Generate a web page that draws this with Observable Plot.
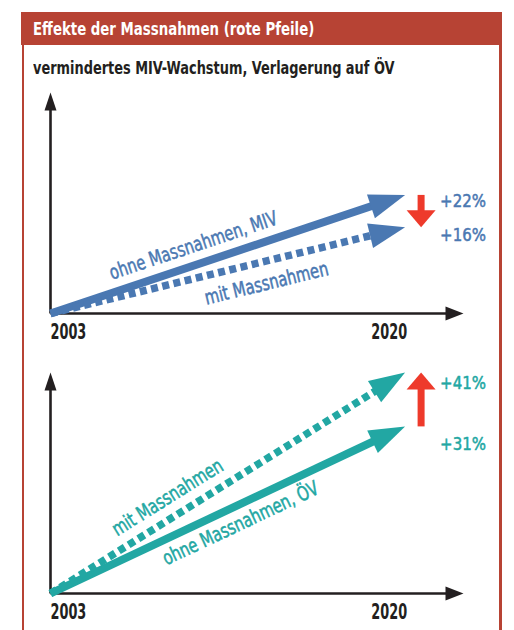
<!DOCTYPE html>
<html>
<head>
<meta charset="utf-8">
<script src="https://cdn.jsdelivr.net/npm/d3@7"></script>
<script src="https://cdn.jsdelivr.net/npm/@observablehq/plot@0.6"></script>
<style>
  body { margin: 0; background: #fff; }
  .cond { font-family: "DejaVu Sans Condensed", "DejaVu Sans", sans-serif; }
  #header { position: absolute; left: 21px; top: 12px; width: 481px; height: 33px; background: #b74334; }
  #title { position: absolute; left: 33px; top: 12px; height: 33px; line-height: 33px; color: #fff; font-size: 18.5px;
           font-weight: bold; white-space: nowrap; transform: scaleX(0.8); transform-origin: 0 50%; }
  #bl, #br { position: absolute; top: 12px; width: 2.5px; height: 640px; background: #b74334; }
  #bl { left: 21.5px; } #br { left: 499px; }
  #subtitle { position: absolute; left: 33px; top: 59px; font-size: 17px; font-weight: bold; color: #231f20;
              line-height: 18px; white-space: nowrap; transform: scaleX(0.845); transform-origin: 0 50%; }
  #p1 { position: absolute; left: 0; top: 80px; }
  #p2 { position: absolute; left: 0; top: 360px; }
</style>
</head>
<body>
<div id="bl"></div><div id="br"></div>
<div id="header"></div>
<div id="title" class="cond">Effekte der Massnahmen (rote Pfeile)</div>
<div id="subtitle" class="cond">vermindertes MIV-Wachstum, Verlagerung auf ÖV</div>
<div id="p1"></div>
<div id="p2"></div>
<script>
// ---- data ----
const years = [2003, 2020];
const xAxisEnd = 2022.8;
const yMax = 41;

const mivSeries = ["ohne Massnahmen, MIV", "mit Massnahmen"];
const mivValues = [22, 16];
const mivLabels = ["+22%", "+16%"];
const mivDashed = [false, true];

const oevSeries = ["mit Massnahmen", "ohne Massnahmen, ÖV"];
const oevValues = [41, 31];
const oevLabels = ["+41%", "+31%"];
const oevDashed = [true, false];

// ---- style / layout ----
const FONT = '"DejaVu Sans Condensed", "DejaVu Sans", sans-serif';
const W = 514, H = 270, ML = 50, MR = 51, MT = 12, MB = 37;
const BLUE = "#4a78b2", TEAL = "#22a7a3", RED = "#ee3a2b", INK = "#231f20";
const kx = (W - ML - MR) / (xAxisEnd - years[0]);
const ky = (H - MT - MB) / yMax;
const angle = v => Math.atan2(v * ky, (years[1] - years[0]) * kx) * 180 / Math.PI;

// arrowhead symbol: tip at origin, pointing to +x
const head = (len, half) => ({
  draw(ctx) { ctx.moveTo(0, 0); ctx.lineTo(-len, -half); ctx.lineTo(-len, half); ctx.closePath(); }
});

function panel({series, values, labels, dashed, color, nameAt, nameDy, pctDy}) {
  const rows = series.map((s, i) => ({name: s, value: values[i], label: labels[i], dashed: dashed[i], i}));
  const ohne = rows.find(d => d.name.startsWith("ohne"));
  const mit = rows.find(d => d.name.startsWith("mit"));
  const effect = [{from: ohne.value, to: mit.value}];
  const base = {x1: () => years[0], y1: () => 0, x2: () => years[1], y2: "value",
                headLength: 0, insetEnd: 28, stroke: color, strokeLinecap: "butt"};
  const marks = [
    // axes
    Plot.arrow([0], {x1: () => years[0], y1: () => 0, x2: () => xAxisEnd, y2: () => 0,
      headLength: 0, insetEnd: 12, stroke: INK, strokeWidth: 2.6, strokeLinecap: "butt"}),
    Plot.arrow([0], {x1: () => years[0], y1: () => 0, x2: () => years[0], y2: () => yMax,
      headLength: 0, insetEnd: 12, stroke: INK, strokeWidth: 2.6, strokeLinecap: "butt"}),
    Plot.dot([0], {x: () => xAxisEnd, y: () => 0, symbol: head(18, 7), fill: INK, stroke: "none"}),
    Plot.dot([0], {x: () => years[0], y: () => yMax, symbol: head(18, 6), rotate: -90, fill: INK, stroke: "none"}),
    // year labels
    Plot.text([years[0]], {x: d => d, y: () => 0, text: d => String(d), dy: 19, textAnchor: "start",
      fontSize: 21, fontWeight: "bold", fill: INK}),
    Plot.text([years[1]], {x: d => d, y: () => 0, text: d => String(d), dy: 19, textAnchor: "end", dx: 2,
      fontSize: 21, fontWeight: "bold", fill: INK}),
    // series arrows
    Plot.arrow(rows.filter(d => !d.dashed), {...base, strokeWidth: 8}),
    Plot.arrow(rows.filter(d => d.dashed), {...base, strokeWidth: 7.5, strokeDasharray: "7,4.5"}),
    Plot.dot(rows, {x: () => years[1], y: "value", symbol: head(36, 12.5),
      rotate: d => -angle(d.value), fill: color, stroke: "none"}),
    // effect (red) arrow
    Plot.arrow(effect, {x1: () => years[1], x2: () => years[1], y1: "from", y2: "to", dx: 16,
      headLength: 0, insetEnd: 14, stroke: RED, strokeWidth: 7, strokeLinecap: "butt"}),
    Plot.dot(effect, {x: () => years[1], y: "to", dx: 16, symbol: head(17, 14.5),
      rotate: d => d.to < d.from ? 90 : -90, fill: RED, stroke: "none"}),
  ];
  rows.forEach(d => {
    const f = nameAt[d.i];
    marks.push(Plot.text([d], {
      x: r => years[0] + f * (years[1] - years[0]), y: r => f * r.value, text: "name",
      rotate: -angle(d.value), dy: nameDy[d.i], fill: color, stroke: color, strokeWidth: 0.5, fontSize: 20
    }));
    marks.push(Plot.text([d], {
      x: () => years[1], y: "value", text: "label", dx: 35, dy: pctDy[d.i],
      textAnchor: "start", fill: color, stroke: color, strokeWidth: 0.5, fontSize: 18.5
    }));
  });
  return Plot.plot({
    width: W, height: H, marginLeft: ML, marginRight: MR, marginTop: MT, marginBottom: MB,
    x: {domain: [years[0], xAxisEnd], axis: null},
    y: {domain: [0, yMax], axis: null},
    style: {fontFamily: FONT, overflow: "visible", background: "transparent"},
    marks
  });
}

// squeeze the text horizontally to imitate the narrow typeface
function squeeze(svg) {
  svg.querySelectorAll("text").forEach(t => {
    const s = t.textContent;
    const c = /^\d{4}$/.test(s) ? 0.68 : /%$/.test(s) ? 0.9 : 0.82;
    const len = t.getComputedTextLength();
    t.setAttribute("textLength", (len * c).toFixed(1));
    t.setAttribute("lengthAdjust", "spacingAndGlyphs");
  });
}

const c1 = panel({
  series: mivSeries, values: mivValues, labels: mivLabels, dashed: mivDashed, color: BLUE,
  nameAt: [0.403, 0.609], nameDy: [-20, 22.5], pctDy: [6.5, 7.5]
});
document.getElementById("p1").append(c1);
squeeze(c1);
const c2 = panel({
  series: oevSeries, values: oevValues, labels: oevLabels, dashed: oevDashed, color: TEAL,
  nameAt: [0.33, 0.536], nameDy: [-23, 19.5], pctDy: [11, 18]
});
document.getElementById("p2").append(c2);
squeeze(c2);
</script>
</body>
</html>
